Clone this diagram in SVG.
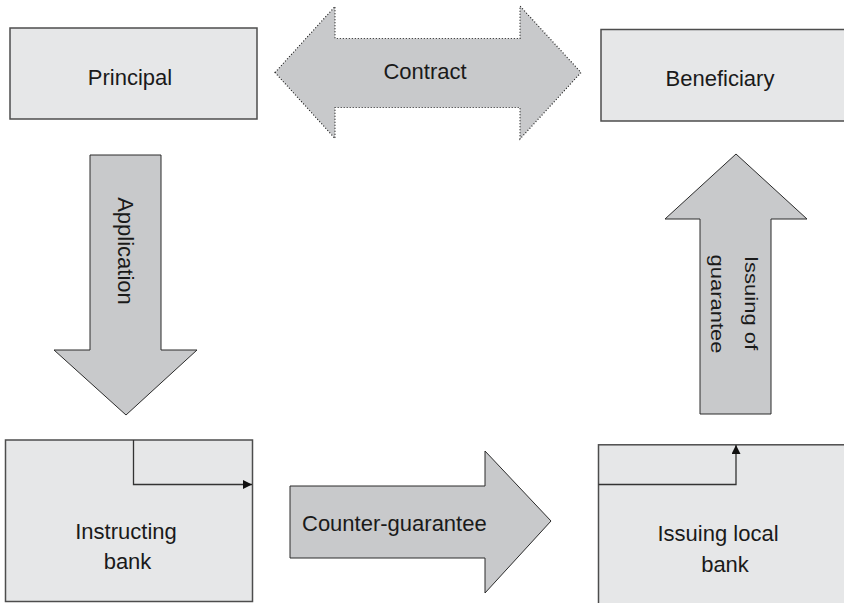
<svg xmlns="http://www.w3.org/2000/svg" width="844" height="603" viewBox="0 0 844 603">
  <defs>
    <marker id="tip" viewBox="0 0 10 10" refX="10" refY="5" markerWidth="9" markerHeight="9" markerUnits="userSpaceOnUse" orient="auto">
      <path d="M0,0 L10,5 L0,10 Z" fill="#111"/>
    </marker>
    <style>
      .box { fill: #e6e7e8; stroke: #4d4d4d; stroke-width: 1.5; }
      .arrow { fill: #c8c9cb; stroke: #2b2b2b; stroke-width: 1; stroke-linejoin: miter; }
      .dotted { fill: #c8c9cb; stroke: #222; stroke-width: 1.2; stroke-dasharray: 1 2; }
      .lbl { font-family: "Liberation Sans", Arial, sans-serif; font-size: 22px; fill: #1a1a1a; }
      .mid { text-anchor: middle; }
      .flow { fill: none; stroke: #333; stroke-width: 1.3; }
    </style>
  </defs>

  <rect width="844" height="603" fill="#ffffff"/>

  <!-- Parties and banks -->
  <g id="principal">
    <rect class="box" x="10" y="28" width="247" height="91"/>
    <text class="lbl mid" x="130" y="84.5">Principal</text>
  </g>

  <g id="beneficiary">
    <rect class="box" x="601" y="29.5" width="260" height="91.5"/>
    <text class="lbl mid" x="720" y="86">Beneficiary</text>
  </g>

  <g id="instructing-bank">
    <rect class="box" x="5.5" y="440" width="247" height="161.5"/>
    <text class="lbl mid" x="126" y="538.5">Instructing</text>
    <text class="lbl mid" x="127.5" y="568.5">bank</text>
  </g>

  <g id="issuing-local-bank">
    <rect class="box" x="598.5" y="444.8" width="270" height="180"/>
    <text class="lbl mid" x="718" y="541">Issuing local</text>
    <text class="lbl mid" x="725" y="571.5">bank</text>
  </g>

  <!-- Block arrows -->
  <g id="contract">
    <polygon class="dotted" points="275,72.5 335,6.5 335,38.5 520,38.5 520,6 581,72.5 520,139 520,107.5 335,107.5 335,138.5"/>
    <text class="lbl mid" x="425" y="79">Contract</text>
  </g>

  <g id="application">
    <polygon class="arrow" points="90,155 161,155 161,350 197,350 126,415 54,350 90,350"/>
    <text class="lbl mid" transform="translate(117.5,251) rotate(90)">Application</text>
  </g>

  <g id="issuing-of-guarantee">
    <polygon class="arrow" points="736,154 807,219 771,219 771,414 700,414 700,219 665,219"/>
    <text class="lbl mid" transform="translate(745,303) rotate(90) scale(1,0.85)">Issuing of</text>
    <text class="lbl mid" transform="translate(711,304) rotate(90) scale(1,0.85)">guarantee</text>
  </g>

  <g id="counter-guarantee">
    <polygon class="arrow" points="290,486 485,486 485,451 551,521 485,593 485,558 290,558"/>
    <text class="lbl" x="302" y="531">Counter-guarantee</text>
  </g>

  <!-- Flow lines inside the bank boxes -->
  <g id="connectors">
    <polyline class="flow" points="133.5,440 133.5,484.5 252,484.5" marker-end="url(#tip)"/>
    <polyline class="flow" points="598.5,484.5 736,484.5 736,445" marker-end="url(#tip)"/>
  </g>
</svg>
